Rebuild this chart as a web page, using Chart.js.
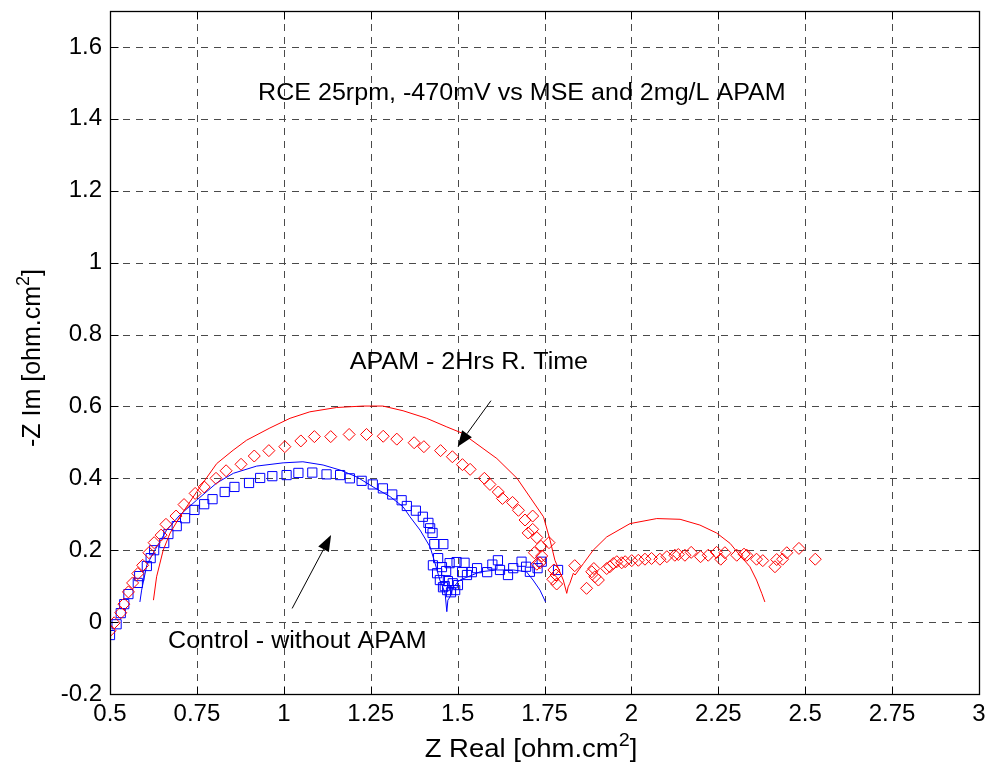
<!DOCTYPE html>
<html><head><meta charset="utf-8">
<script src="https://cdn.jsdelivr.net/npm/chart.js@4.4.1/dist/chart.umd.min.js"></script>
<style>html,body{margin:0;padding:0;background:#fff;}#wrap{width:990px;height:769px;position:relative;}</style>
</head><body><div id="wrap"><canvas id="c" width="990" height="769"></canvas></div>
<script>
const xTicks = [0.5,0.75,1,1.25,1.5,1.75,2,2.25,2.5,2.75,3];
const xTickLabels = ['0.5','0.75','1','1.25','1.5','1.75','2','2.25','2.5','2.75','3'];
const yTicks = [-0.2,0,0.2,0.4,0.6,0.8,1,1.2,1.4,1.6];
const yTickLabels = ['-0.2','0','0.2','0.4','0.6','0.8','1','1.2','1.4','1.6'];

// Control - without APAM (measured, blue squares)
const controlDataX = [0.500,0.519,0.531,0.541,0.553,0.580,0.584,0.606,0.617,0.627,0.656,0.668,0.692,0.716,0.743,0.771,0.795,0.830,0.858,0.900,0.932,0.967,1.008,1.042,1.082,1.123,1.162,1.190,1.224,1.256,1.285,1.312,1.339,1.354,1.380,1.400,1.416,1.421,1.428,1.433,1.459,1.444,1.429,1.441,1.449,1.458,1.470,1.481,1.493,1.501,1.472,1.463,1.486,1.455,1.467,1.477,1.497,1.513,1.520,1.527,1.541,1.556,1.585,1.600,1.616,1.622,1.645,1.660,1.684,1.697,1.708,1.730,1.742,1.789];
const controlDataY = [-0.036,-0.006,0.025,0.050,0.078,0.109,0.128,0.156,0.178,0.200,0.220,0.245,0.267,0.289,0.312,0.328,0.342,0.362,0.376,0.387,0.401,0.406,0.409,0.415,0.416,0.411,0.409,0.400,0.393,0.383,0.372,0.355,0.339,0.323,0.310,0.293,0.276,0.261,0.248,0.217,0.217,0.178,0.158,0.136,0.117,0.097,0.089,0.083,0.089,0.103,0.114,0.100,0.108,0.153,0.142,0.164,0.167,0.139,0.165,0.131,0.139,0.150,0.139,0.160,0.172,0.145,0.131,0.150,0.168,0.154,0.140,0.150,0.168,0.145];

// Control fit (blue line)
const controlFitX = [0.586,0.591,0.606,0.629,0.663,0.701,0.749,0.807,0.855,0.922,0.998,1.055,1.113,1.162,1.210,1.257,1.306,1.343,1.363,1.392,1.421,1.435,1.449,1.464,1.469,1.472,1.478,1.487,1.507,1.527,1.565,1.613,1.660,1.698,1.717,1.737,1.753];
const controlFitY = [0.056,0.089,0.159,0.200,0.256,0.298,0.339,0.387,0.414,0.434,0.443,0.446,0.437,0.423,0.404,0.376,0.349,0.321,0.293,0.256,0.209,0.164,0.117,0.081,0.029,0.061,0.070,0.097,0.117,0.125,0.140,0.145,0.145,0.140,0.117,0.089,0.056];

// APAM - 2Hrs R. Time (measured, red diamonds)
const apamDataX = [0.500,0.512,0.531,0.540,0.553,0.565,0.580,0.594,0.612,0.627,0.647,0.661,0.690,0.713,0.745,0.771,0.805,0.834,0.877,0.915,0.957,1.003,1.049,1.088,1.135,1.188,1.238,1.286,1.325,1.375,1.403,1.451,1.485,1.514,1.536,1.577,1.593,1.617,1.629,1.658,1.675,1.694,1.716,1.716,1.703,1.728,1.740,1.763,1.721,1.742,1.737,1.728,1.777,1.783,1.774,1.785,1.837,1.871,1.886,1.892,1.895,1.905,1.929,1.938,1.948,1.958,1.972,1.982,2.001,2.020,2.039,2.058,2.082,2.102,2.125,2.135,2.154,2.172,2.199,2.221,2.245,2.257,2.269,2.303,2.324,2.332,2.360,2.378,2.413,2.418,2.435,2.447,2.482,2.529];
const apamDataY = [-0.024,-0.002,0.026,0.050,0.084,0.109,0.135,0.158,0.193,0.221,0.242,0.272,0.295,0.327,0.358,0.376,0.400,0.421,0.439,0.462,0.477,0.488,0.504,0.516,0.516,0.522,0.522,0.517,0.509,0.499,0.488,0.477,0.460,0.438,0.425,0.400,0.383,0.362,0.344,0.333,0.311,0.284,0.295,0.258,0.248,0.235,0.211,0.221,0.193,0.184,0.165,0.161,0.145,0.131,0.119,0.106,0.157,0.094,0.140,0.149,0.126,0.117,0.149,0.154,0.163,0.168,0.165,0.168,0.171,0.172,0.175,0.177,0.175,0.182,0.186,0.188,0.186,0.194,0.182,0.186,0.194,0.175,0.193,0.186,0.189,0.186,0.175,0.171,0.154,0.174,0.175,0.193,0.205,0.175];

// APAM fit (red line)
const apamFitX = [0.625,0.634,0.653,0.673,0.701,0.749,0.807,0.854,0.893,0.960,1.018,1.075,1.152,1.228,1.285,1.343,1.411,1.469,1.512,1.613,1.671,1.708,1.747,1.766,1.780,1.804,1.814,1.818,1.823,1.833,1.838,1.862,1.890,1.929,1.996,2.073,2.140,2.197,2.245,2.284,2.312,2.341,2.360,2.375,2.384];
const apamFitY = [0.061,0.126,0.200,0.248,0.293,0.362,0.441,0.478,0.506,0.540,0.567,0.585,0.597,0.601,0.601,0.588,0.567,0.543,0.526,0.455,0.400,0.348,0.293,0.228,0.172,0.117,0.080,0.098,0.108,0.136,0.131,0.163,0.200,0.237,0.274,0.288,0.286,0.270,0.248,0.219,0.186,0.154,0.117,0.080,0.056];

// Annotations (data coordinates, left/baseline)
const noteTexts = ['RCE 25rpm, -470mV vs MSE and 2mg/L APAM','APAM - 2Hrs R. Time','Control - without APAM'];
const noteX = [0.926,1.190,0.667];
const noteY = [1.452,0.704,-0.072];
const arrowTailX = [1.596,1.024];
const arrowTailY = [0.616,0.038];
const arrowHeadX = [1.500,1.136];
const arrowHeadY = [0.488,0.242];

const xTitleMain = 'Z Real [ohm.cm', xTitleSup = '2', xTitleEnd = ']';
const yTitleMain = '-Z Im [ohm.cm', yTitleSup = '2', yTitleEnd = ']';

const FONT = '"Liberation Sans", Arial, sans-serif';
const pts = (xs, ys) => xs.map((x, i) => ({x, y: ys[i]}));

const framePlugin = {
  id: 'frame',
  beforeDatasetsDraw(chart) {
    const {ctx, chartArea: a, scales: {x, y}} = chart;
    ctx.save();
    ctx.strokeStyle = '#4a4a4a';
    ctx.lineWidth = 1;
    ctx.setLineDash([7, 6]);
    xTicks.forEach(v => {
      const px = Math.round(x.getPixelForValue(v)) + 0.5;
      ctx.beginPath(); ctx.moveTo(px, a.bottom); ctx.lineTo(px, a.top); ctx.stroke();
    });
    yTicks.forEach(v => {
      const py = Math.round(y.getPixelForValue(v)) + 0.5;
      ctx.beginPath(); ctx.moveTo(a.left, py); ctx.lineTo(a.right, py); ctx.stroke();
    });
    ctx.restore();
  },
  afterDatasetsDraw(chart) {
    const {ctx, chartArea: a, scales: {x, y}} = chart;
    ctx.save();
    ctx.setLineDash([]);
    ctx.strokeStyle = '#000';
    ctx.lineWidth = 1.3;
    const L = Math.round(a.left) + 0.5, R = Math.round(a.right) + 0.5, T = Math.round(a.top) + 0.5, B = Math.round(a.bottom) + 0.5;
    ctx.strokeRect(L, T, R - L, B - T);
    const tl = 8;
    ctx.lineWidth = 1;
    xTicks.forEach(v => {
      const px = Math.round(x.getPixelForValue(v)) + 0.5;
      ctx.beginPath(); ctx.moveTo(px, B); ctx.lineTo(px, B - tl); ctx.moveTo(px, T); ctx.lineTo(px, T + tl); ctx.stroke();
    });
    yTicks.forEach(v => {
      const py = Math.round(y.getPixelForValue(v)) + 0.5;
      ctx.beginPath(); ctx.moveTo(L, py); ctx.lineTo(L + tl, py); ctx.moveTo(R, py); ctx.lineTo(R - tl, py); ctx.stroke();
    });
    // annotations
    ctx.fillStyle = '#000';
    ctx.textBaseline = 'alphabetic';
    ctx.textAlign = 'left';
    noteTexts.forEach((t, i) => {
      ctx.save();
      ctx.translate(x.getPixelForValue(noteX[i]), y.getPixelForValue(noteY[i]));
      ctx.scale(1.09, 1);
      ctx.font = '23px ' + FONT;
      ctx.fillText(t, 0, 0);
      ctx.restore();
    });
    // arrows
    arrowTailX.forEach((_, i) => {
      const x0 = x.getPixelForValue(arrowTailX[i]), y0 = y.getPixelForValue(arrowTailY[i]);
      const x1 = x.getPixelForValue(arrowHeadX[i]), y1 = y.getPixelForValue(arrowHeadY[i]);
      const ang = Math.atan2(y1 - y0, x1 - x0);
      const hl = 16, hw = 6;
      const bx = x1 - hl * Math.cos(ang), by = y1 - hl * Math.sin(ang);
      ctx.strokeStyle = '#000'; ctx.lineWidth = 1;
      ctx.beginPath(); ctx.moveTo(x0, y0); ctx.lineTo(bx, by); ctx.stroke();
      ctx.beginPath();
      ctx.moveTo(x1, y1);
      ctx.lineTo(bx + hw * Math.sin(ang), by - hw * Math.cos(ang));
      ctx.lineTo(bx - hw * Math.sin(ang), by + hw * Math.cos(ang));
      ctx.closePath(); ctx.fill();
    });
    ctx.restore();
  },
  afterDraw(chart) {
    const {ctx} = chart;
    ctx.save();
    ctx.fillStyle = '#000';
    ctx.textBaseline = 'alphabetic';
    ctx.textAlign = 'left';
    const drawTitle = (main, sup, end, size) => {
      ctx.font = size + 'px ' + FONT;
      const w1 = ctx.measureText(main).width, w3 = ctx.measureText(end).width;
      ctx.font = Math.round(size * 0.72) + 'px ' + FONT;
      const w2 = ctx.measureText(sup).width;
      const tot = w1 + w2 + w3;
      let cx = -tot / 2;
      ctx.font = size + 'px ' + FONT;
      ctx.fillText(main, cx, 0); cx += w1;
      ctx.font = Math.round(size * 0.72) + 'px ' + FONT;
      ctx.fillText(sup, cx, -size * 0.45); cx += w2;
      ctx.font = size + 'px ' + FONT;
      ctx.fillText(end, cx, 0);
    };
    ctx.save();
    ctx.translate(531, 757);
    ctx.scale(1.1, 1);
    drawTitle(xTitleMain, xTitleSup, xTitleEnd, 25);
    ctx.restore();
    ctx.save();
    ctx.translate(40, 358);
    ctx.rotate(-Math.PI / 2);
    drawTitle(yTitleMain, yTitleSup, yTitleEnd, 25);
    ctx.restore();
    ctx.restore();
  }
};

new Chart(document.getElementById('c'), {
  type: 'scatter',
  data: {
    datasets: [
      {label: 'APAM fit', data: pts(apamFitX, apamFitY), showLine: true, borderColor: '#ff0000', borderWidth: 1, pointRadius: 0, fill: false, tension: 0},
      {label: 'APAM - 2Hrs R. Time', data: pts(apamDataX, apamDataY), pointStyle: 'rectRot', pointRadius: 6, borderColor: '#ff0000', backgroundColor: 'rgba(0,0,0,0)', borderWidth: 1},
      {label: 'Control fit', data: pts(controlFitX, controlFitY), showLine: true, borderColor: '#0000ff', borderWidth: 1, pointRadius: 0, fill: false, tension: 0},
      {label: 'Control - without APAM', data: pts(controlDataX, controlDataY), pointStyle: 'rect', pointRadius: 6.5, borderColor: '#0000ff', backgroundColor: 'rgba(0,0,0,0)', borderWidth: 1}
    ]
  },
  options: {
    responsive: false,
    animation: false,
    devicePixelRatio: 1,
    layout: {padding: {top: 11, right: 11, left: 0, bottom: 0}},
    plugins: {legend: {display: false}, tooltip: {enabled: false}},
    elements: {point: {hoverRadius: 0}},
    scales: {
      x: {
        type: 'linear', min: 0.5, max: 3,
        afterBuildTicks: s => { s.ticks = xTicks.map(v => ({value: v})); },
        afterFit: s => { s.height = 75; s.paddingLeft = 0; s.paddingRight = 0; s.paddingTop = 0; s.paddingBottom = 0; },
        ticks: {callback: (v, i) => xTickLabels[i], font: {family: FONT, size: 24}, color: '#000', padding: 6, maxRotation: 0, autoSkip: false},
        grid: {display: false, drawTicks: false},
        border: {display: false}
      },
      y: {
        type: 'linear', min: -0.2, max: 1.7,
        afterBuildTicks: s => { s.ticks = yTicks.map(v => ({value: v})); },
        afterFit: s => { s.width = 110; s.paddingLeft = 0; s.paddingRight = 0; s.paddingTop = 0; s.paddingBottom = 0; },
        ticks: {callback: (v, i) => yTickLabels[i], font: {family: FONT, size: 24}, color: '#000', padding: 8, autoSkip: false},
        grid: {display: false, drawTicks: false},
        border: {display: false}
      }
    }
  },
  plugins: [framePlugin]
});
</script></body></html>
